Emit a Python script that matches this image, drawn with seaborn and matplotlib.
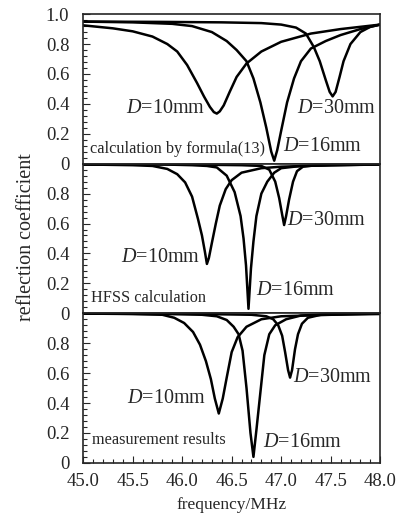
import numpy as np
import pandas as pd
import matplotlib
matplotlib.use('Agg')
import matplotlib.pyplot as plt
import seaborn as sns
from matplotlib.ticker import MultipleLocator

# --- DATA ---
# panel 1: calculation by formula(13)
f_calc_10 = [45.0, 45.3, 45.5, 45.7, 45.85, 45.95, 46.05, 46.15, 46.22, 46.28, 46.32, 46.35,
             46.38, 46.42, 46.48, 46.55, 46.65, 46.8, 47.0, 47.3, 47.6, 48.0]
r_calc_10 = [0.925, 0.905, 0.885, 0.85, 0.80, 0.75, 0.66, 0.54, 0.45, 0.38, 0.345, 0.335,
             0.35, 0.39, 0.48, 0.58, 0.67, 0.75, 0.815, 0.87, 0.90, 0.93]
f_calc_16 = [45.0, 45.5, 45.9, 46.1, 46.3, 46.45, 46.55, 46.65, 46.72, 46.79, 46.85, 46.9,
             46.93, 46.96, 47.0, 47.06, 47.13, 47.2, 47.3, 47.45, 47.6, 47.8, 48.0]
r_calc_16 = [0.95, 0.945, 0.935, 0.92, 0.88, 0.82, 0.76, 0.685, 0.57, 0.41, 0.24, 0.08,
             0.02, 0.09, 0.22, 0.41, 0.57, 0.685, 0.77, 0.82, 0.86, 0.90, 0.93]
f_calc_30 = [45.0, 45.8, 46.4, 46.8, 47.0, 47.15, 47.25, 47.33, 47.39, 47.45, 47.49, 47.52,
             47.55, 47.59, 47.63, 47.7, 47.8, 47.9, 48.0]
r_calc_30 = [0.95, 0.948, 0.945, 0.94, 0.93, 0.91, 0.87, 0.78, 0.685, 0.56, 0.48, 0.45,
             0.48, 0.58, 0.685, 0.80, 0.88, 0.915, 0.93]

# panel 2: HFSS calculation
f_hfss_10 = [45.0, 45.5, 45.7, 45.85, 45.95, 46.03, 46.1, 46.16, 46.2, 46.23, 46.25, 46.27,
             46.3, 46.34, 46.38, 46.44, 46.5, 46.6, 46.8, 47.0, 47.5, 48.0]
r_hfss_10 = [0.995, 0.99, 0.985, 0.965, 0.93, 0.875, 0.78, 0.63, 0.52, 0.41, 0.33, 0.37,
             0.47, 0.60, 0.72, 0.83, 0.89, 0.94, 0.97, 0.98, 0.99, 0.995]
f_hfss_16 = [45.0, 45.8, 46.1, 46.25, 46.35, 46.45, 46.53, 46.59, 46.62, 46.645, 46.67, 46.695,
             46.72, 46.75, 46.8, 46.86, 46.93, 47.0, 47.2, 47.6, 48.0]
r_hfss_16 = [0.995, 0.995, 0.99, 0.985, 0.975, 0.92, 0.81, 0.65, 0.50, 0.32, 0.03, 0.30,
             0.48, 0.65, 0.80, 0.88, 0.94, 0.97, 0.985, 0.99, 0.995]
f_hfss_30 = [45.0, 46.0, 46.6, 46.8, 46.88, 46.94, 46.98, 47.01, 47.03, 47.05, 47.08, 47.12,
             47.16, 47.22, 47.35, 47.6, 48.0]
r_hfss_30 = [0.995, 0.995, 0.99, 0.985, 0.96, 0.88, 0.77, 0.66, 0.59, 0.65, 0.76, 0.88,
             0.95, 0.98, 0.99, 0.995, 0.995]

# panel 3: measurement results
f_meas_10 = [45.0, 45.5, 45.8, 45.92, 46.02, 46.11, 46.18, 46.24, 46.29, 46.33, 46.37, 46.41,
             46.45, 46.5, 46.56, 46.65, 46.8, 47.0, 47.5, 48.0]
r_meas_10 = [0.998, 0.995, 0.99, 0.97, 0.935, 0.875, 0.79, 0.68, 0.56, 0.43, 0.33, 0.43,
             0.57, 0.74, 0.84, 0.91, 0.96, 0.98, 0.99, 0.995]
f_meas_16 = [45.0, 45.9, 46.2, 46.35, 46.45, 46.52, 46.57, 46.61, 46.65, 46.69, 46.72, 46.75,
             46.79, 46.83, 46.88, 46.94, 47.05, 47.2, 47.5, 48.0]
r_meas_16 = [0.998, 0.995, 0.99, 0.98, 0.955, 0.91, 0.86, 0.75, 0.50, 0.20, 0.04, 0.22,
             0.47, 0.72, 0.86, 0.92, 0.96, 0.985, 0.995, 0.998]
f_meas_30 = [45.0, 46.2, 46.7, 46.85, 46.92, 46.97, 47.01, 47.04, 47.07, 47.09, 47.11, 47.14,
             47.17, 47.21, 47.27, 47.4, 47.7, 48.0]
r_meas_30 = [0.998, 0.995, 0.99, 0.98, 0.96, 0.92, 0.85, 0.74, 0.62, 0.57, 0.62, 0.76,
             0.86, 0.93, 0.97, 0.99, 0.995, 0.998]

panel_names = ['calculation by formula(13)', 'HFSS calculation', 'measurement results']
curve_labels = ['$D$=10mm', '$D$=16mm', '$D$=30mm']

# --- STYLE ---
sns.set_style('ticks')
plt.rcParams['font.family'] = ['Liberation Serif', 'DejaVu Serif']
plt.rcParams['mathtext.fontset'] = 'custom'
plt.rcParams['mathtext.rm'] = 'Liberation Serif'
plt.rcParams['mathtext.it'] = 'Liberation Serif:italic'

fig, axes = plt.subplots(3, 1, figsize=(3.96, 5.23), dpi=100, sharex=True)
fig.subplots_adjust(left=0.21, right=0.96, top=0.973, bottom=0.115, hspace=0)

panels = [
    [(f_calc_10, r_calc_10), (f_calc_16, r_calc_16), (f_calc_30, r_calc_30)],
    [(f_hfss_10, r_hfss_10), (f_hfss_16, r_hfss_16), (f_hfss_30, r_hfss_30)],
    [(f_meas_10, r_meas_10), (f_meas_16, r_meas_16), (f_meas_30, r_meas_30)],
]

# label placement per panel: (x, y, ha) for D=10, D=16, D=30
label_pos = [
    [(46.23, 0.37, 'right'), (47.02, 0.115, 'left'), (47.16, 0.37, 'left')],
    [(46.18, 0.375, 'right'), (46.75, 0.15, 'left'), (47.06, 0.62, 'left')],
    [(46.24, 0.43, 'right'), (46.82, 0.135, 'left'), (47.12, 0.57, 'left')],
]
name_pos = [(45.07, 0.10), (45.08, 0.105), (45.09, 0.153)]

for i, ax in enumerate(axes):
    for f, r in panels[i]:
        df = pd.DataFrame({'f': f, 'r': r})
        sns.lineplot(data=df, x='f', y='r', ax=ax, color='black', lw=1.8)
    for (x, y, ha), lab in zip(label_pos[i], curve_labels):
        ax.text(x, y, lab, ha=ha, va='center', fontsize=14.5)
    ax.text(name_pos[i][0], name_pos[i][1], panel_names[i], ha='left', va='center', fontsize=11.7)

    ax.set_xlim(45.0, 48.0)
    ax.set_ylim(0, 1.0)
    ax.set_xlabel('')
    ax.set_ylabel('')
    ax.yaxis.set_minor_locator(MultipleLocator(0.04))
    if i == 0:
        ax.set_yticks([0, 0.2, 0.4, 0.6, 0.8, 1.0])
        ax.set_yticklabels(['0', '0.2', '0.4', '0.6', '0.8', '1.0'])
    else:
        ax.set_yticks([0, 0.2, 0.4, 0.6, 0.8])
        ax.set_yticklabels(['0', '0.2', '0.4', '0.6', '0.8'])
    ax.tick_params(axis='y', which='both', direction='in', left=True, right=False,
                   labelsize=13.5, pad=10)
    ax.tick_params(axis='y', which='major', length=5, width=0.8)
    ax.tick_params(axis='y', which='minor', length=3, width=0.8)
    ax.tick_params(axis='x', which='both', direction='in', top=False,
                   bottom=(i == 2), labelbottom=(i == 2))
    for s in ax.spines.values():
        s.set_linewidth(1.2)
        s.set_visible(True)

axes[2].xaxis.set_minor_locator(MultipleLocator(0.1))
axes[2].set_xticks([45.0, 45.5, 46.0, 46.5, 47.0, 47.5, 48.0])
axes[2].set_xticklabels(['45.0', '45.5', '46.0', '46.5', '47.0', '47.5', '48.0'])
axes[2].tick_params(axis='x', which='major', length=5, width=0.8, labelsize=13.5, pad=7)
axes[2].tick_params(axis='x', which='minor', length=3, width=0.8)

fig.text(0.068, 0.546, 'reflection coefficient', rotation=90, ha='center', va='center', fontsize=14.5)
fig.text(0.586, 0.034, 'frequency/MHz', ha='center', va='center', fontsize=12.5)

fig.savefig('out.png', dpi=100)
